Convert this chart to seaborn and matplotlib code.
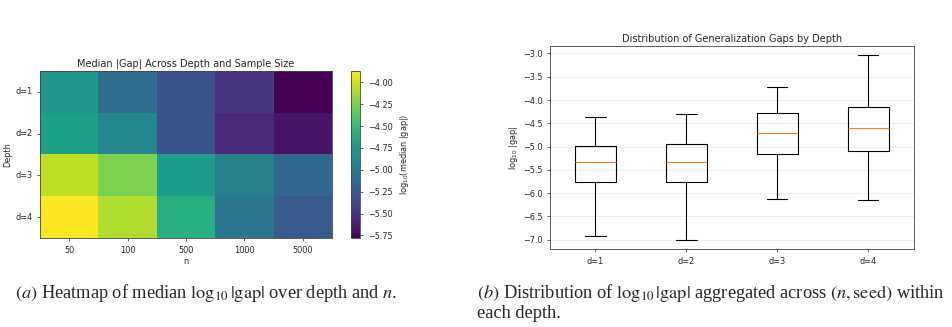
import numpy as np
import pandas as pd
import matplotlib
matplotlib.use("Agg")
import matplotlib.pyplot as plt
import seaborn as sns

# heatmap values: median log10|gap|, rows = depth, cols = n
depths = ["d=1", "d=2", "d=3", "d=4"]
n_vals = ["50", "100", "500", "1000", "5000"]
med_d1 = [-4.77, -5.11, -5.30, -5.49, -5.78]
med_d2 = [-4.69, -4.90, -5.29, -5.55, -5.68]
med_d3 = [-4.06, -4.25, -4.73, -4.96, -5.15]
med_d4 = [-3.87, -4.10, -4.58, -5.02, -5.24]

# box summaries per depth: min, q1, median, q3, max of log10|gap|
box_d1 = [-6.92, -5.77, -5.33, -4.99, -4.36]
box_d2 = [-7.00, -5.76, -5.33, -4.94, -4.30]
box_d3 = [-6.13, -5.16, -4.71, -4.28, -3.72]
box_d4 = [-6.15, -5.09, -4.60, -4.15, -3.04]

heat = pd.DataFrame([med_d1, med_d2, med_d3, med_d4], index=depths, columns=n_vals)

rows = []
for d, vals in zip(depths, [box_d1, box_d2, box_d3, box_d4]):
    for v in vals:
        rows.append({"depth": d, "gap": v})
gaps = pd.DataFrame(rows)

sns.set_style("white")
plt.rcParams["font.family"] = ["DejaVu Sans"]
plt.rcParams["mathtext.fontset"] = "dejavusans"

fs = 5.9
tfs = 7.0
fig = plt.figure(figsize=(9.52, 3.27), dpi=100)

############################### (a) heatmap ###################################
ax1 = fig.add_axes([0.042, 0.2722, 0.3067, 0.5107])
cax = fig.add_axes([0.3687, 0.2722, 0.0095, 0.5107])
sns.heatmap(heat, cmap="viridis", ax=ax1, cbar_ax=cax,
            cbar_kws={"label": r"log$_{10}$(median |gap|)"})
for sp in ax1.spines.values():
    sp.set_visible(True)
    sp.set_linewidth(0.6)
    sp.set_color("#444444")
cb = ax1.collections[0].colorbar
cb.outline.set_linewidth(0.6)
cb.outline.set_edgecolor("#444444")
cb.set_ticks([-4.0, -4.25, -4.5, -4.75, -5.0, -5.25, -5.5, -5.75])
cb.ax.tick_params(labelsize=fs, length=2, width=0.5, left=False, right=True)
cb.ax.yaxis.label.set_size(fs)
ax1.tick_params(labelsize=fs, length=2, width=0.5, bottom=True, left=True)
ax1.set_yticklabels(depths, rotation=0)
ax1.set_xticklabels(n_vals, rotation=0)
ax1.set_xlabel("n", fontsize=fs, labelpad=2)
ax1.set_ylabel("Depth", fontsize=fs, labelpad=2)
ax1.set_title("Median |Gap| Across Depth and Sample Size", fontsize=tfs, pad=3)

############################### (b) boxplot ###################################
ax2 = fig.add_axes([0.5777, 0.2385, 0.382, 0.6208])
sns.boxplot(data=gaps, x="depth", y="gap", whis=(0, 100), width=0.45,
            fill=False, color="black", linewidth=0.8,
            medianprops={"color": "#ff7f0e"}, ax=ax2)
ax2.set_ylim(-7.2, -2.84)
ax2.set_yticks(np.arange(-7.0, -2.9, 0.5))
ax2.yaxis.grid(True, color="#dddddd", linewidth=0.6, alpha=0.6)
ax2.set_axisbelow(True)
for sp in ax2.spines.values():
    sp.set_linewidth(0.6)
    sp.set_color("#444444")
ax2.tick_params(labelsize=fs, length=2, width=0.5, bottom=True, left=True)
ax2.set_xlabel("")
ax2.set_ylabel(r"log$_{10}$ |gap|", fontsize=fs, labelpad=2)
ax2.set_title("Distribution of Generalization Gaps by Depth", fontsize=tfs, pad=3)

################################ captions #####################################
cap = dict(family=["Liberation Serif", "DejaVu Serif"], fontsize=13.2, va="center", ha="left")
plt.rcParams["mathtext.fontset"] = "stix"
fig.text(0.016, 1 - 293 / 327,
         r"$\mathit{(a)}$ Heatmap of median $\log_{10}|\mathrm{gap}|$ over depth and $n$.", **cap)
fig.text(0.501, 1 - 293 / 327,
         r"$\mathit{(b)}$ Distribution of $\log_{10}|\mathrm{gap}|$ aggregated across $(n, \mathrm{seed})$ within", **cap)
fig.text(0.501, 1 - 313 / 327, "each depth.", **cap)

plt.savefig("out.png", dpi=100)
